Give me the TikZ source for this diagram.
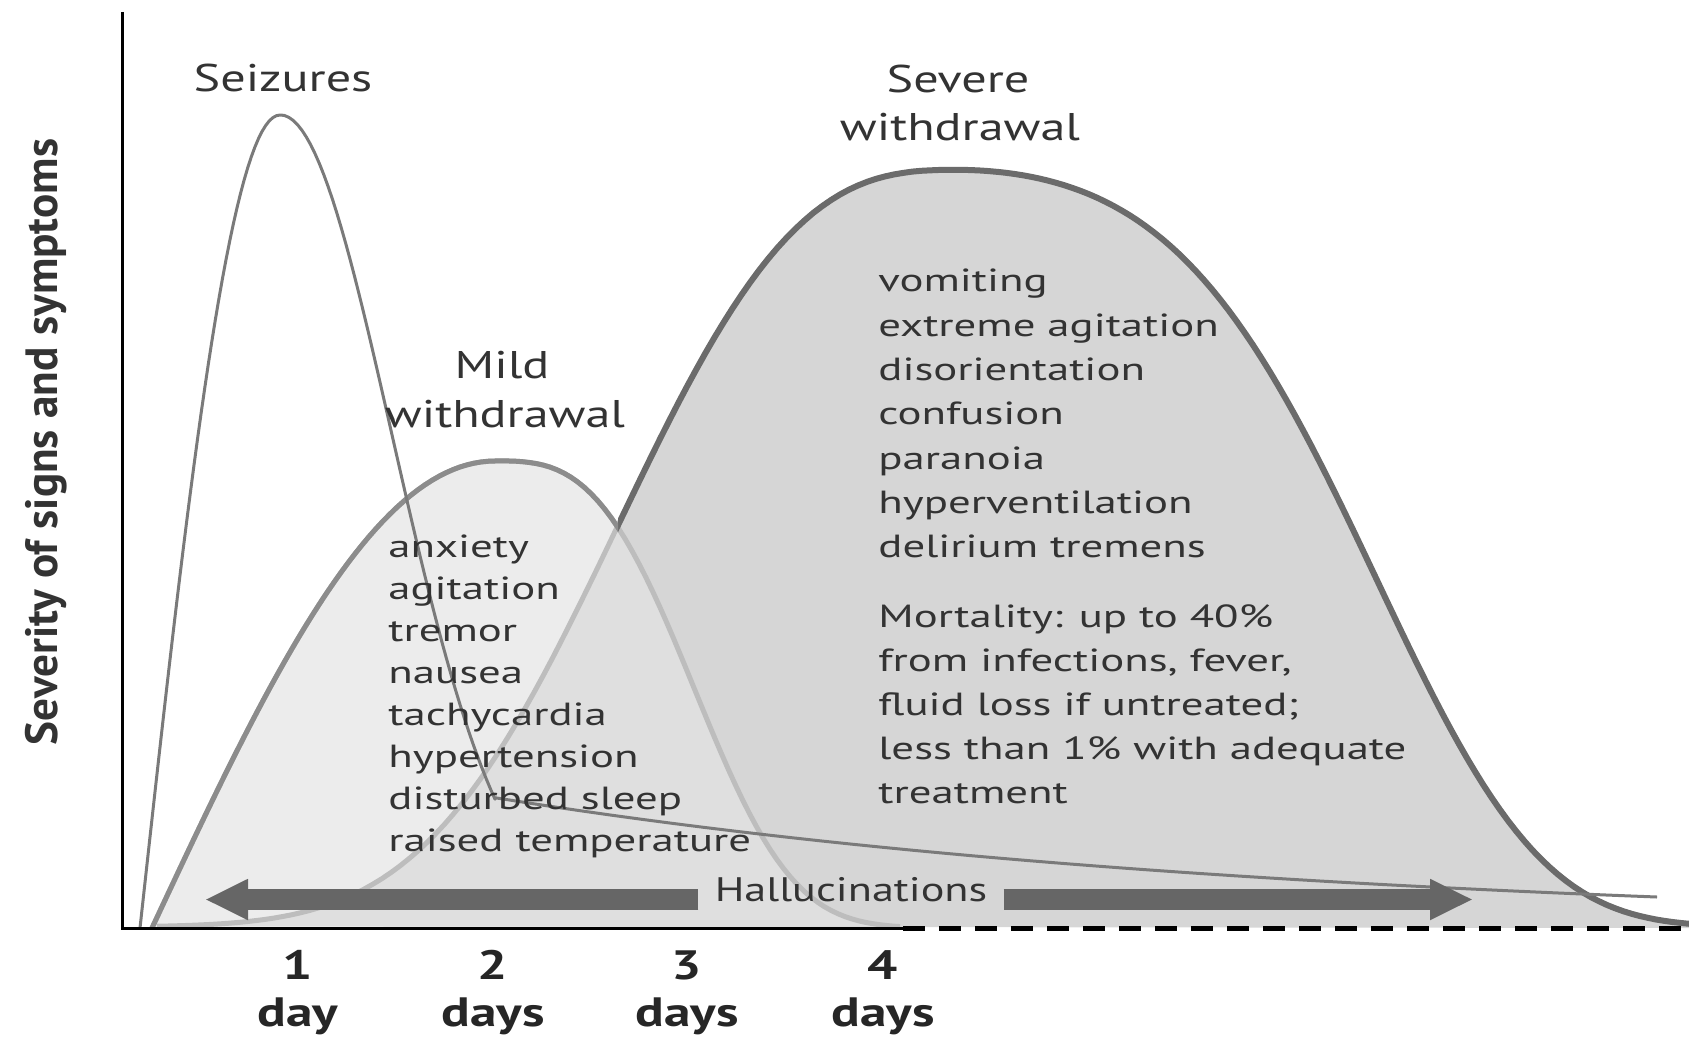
\documentclass[tikz,border=0pt]{standalone}
\usepackage{fontspec}
\setmainfont{PT Sans}[FakeStretch=1.3]
\newfontfamily\symptomfont{PT Sans}[FakeStretch=1.4]
\newfontfamily\ylabelfont{PT Sans}
\usetikzlibrary{arrows.meta}

\definecolor{severefill}{HTML}{D6D6D6}
\definecolor{mildfill}{HTML}{E4E4E4}
\definecolor{severeline}{HTML}{6B6B6B}
\definecolor{mildline}{HTML}{8C8C8C}
\definecolor{fadedline}{HTML}{BDBDBD}
\definecolor{seizureline}{HTML}{7A7A7A}
\definecolor{arrowgray}{HTML}{666666}
\definecolor{labelgray}{HTML}{333333}

% curves, in pixel units (y grows downwards)
\newcommand{\severecurve}{plot[domain=157:957, samples=90] (\x, {927-757*exp(-((957.5-\x)/400)^2.78)})
  -- plot[domain=957:1689, samples=90] (\x, {927-757*exp(-(0.016*((\x-957)/100)^2+0.0016*((\x-957)/100)^4))})}
\newcommand{\mildcurve}{plot[domain=152:495, samples=50] (\x, {928-467*sin((\x-152)*0.26239)})
  -- plot[domain=495:900, samples=60] (\x, {928-467*exp(-((\x-494.5)/228)^3.05)})}
\newcommand{\seizurecurve}{plot[domain=140:280, samples=40] (\x, {928-813*cos((280-\x)*0.642857)})
  -- plot[domain=280:495, samples=50] (\x, {928-813*exp(-0.5*((\x-280)/112)^2)})
  -- plot[domain=495:1657, samples=40] (\x, {928-129*exp(-0.00124*(\x-503))})}

\begin{document}
\begin{tikzpicture}[x=0.5pt, y=-0.5pt, line join=round,
  symptom/.style={font=\symptomfont\fontsize{16}{19}\selectfont, text=labelgray, inner sep=0pt, anchor=base west},
  heading/.style={font=\fontsize{19.3}{23}\selectfont, text=labelgray, inner sep=0pt, anchor=base},
  daytick/.style={font=\bfseries\fontsize{20.5}{24}\selectfont, text=black!85, inner sep=0pt, anchor=base},
  hallarrow/.style={arrowgray, line width=10.5pt, -{Triangle[length=21.5pt, width=19pt]}}]
  \useasboundingbox (0,0) rectangle (1689,1037);

  % Shading the regions
  \fill[severefill] \severecurve -- (1689,928) -- cycle;
  \fill[mildfill, fill opacity=0.7] \mildcurve -- cycle;

  % Curves
  \draw[fadedline, line width=2.5pt] \severecurve;
  \draw[fadedline, line width=2.5pt] \mildcurve;
  \begin{scope}
    \clip (618,0) rectangle (1689,1037);
    \draw[severeline, line width=3pt] \severecurve;
  \end{scope}
  \begin{scope}
    \clip (0,0) rectangle (618,1037);
    \draw[mildline, line width=2.5pt] \mildcurve;
  \end{scope}
  \draw[seizureline, line width=1.5pt] \seizurecurve;

  % Axes
  \draw[line width=1.5pt, line join=miter] (122,12) -- (122,928) -- (903,928);
  \draw[line width=2.5pt, dash pattern=on 11pt off 7pt] (903,928) -- (1689,928);
  \node[rotate=90, font=\ylabelfont\bfseries\fontsize{22.6}{27}\selectfont, text=labelgray] (ylab) at (46,442) {Severity of signs and symptoms};

  % Days
  \node[daytick] (d1) at (298,979) {1};
  \node[daytick] (d1txt) at (298,1026) {day};
  \node[daytick] (d2) at (493,979) {2};
  \node[daytick] (d2txt) at (493,1026) {days};
  \node[daytick] (d3) at (687,979) {3};
  \node[daytick] (d3txt) at (687,1026) {days};
  \node[daytick] (d4) at (883,979) {4};
  \node[daytick] (d4txt) at (883,1026) {days};

  % Headings
  \node[heading] (seiz) at (283,92) {Seizures};
  \node[heading] (mildA) at (502,378) {Mild};
  \node[heading] (mildB) at (505,427) {withdrawal};
  \node[heading] (sevA) at (958,93) {Severe};
  \node[heading] (sevB) at (960,141) {withdrawal};

  % Symptoms
  \foreach \txt [count=\i from 0] in {anxiety, agitation, tremor, nausea, tachycardia, hypertension, disturbed sleep, raised temperature}
    \node[symptom] (mild\i) at (388,{557+42*\i}) {\txt};
  \foreach \txt [count=\i from 0] in {vomiting, extreme agitation, disorientation, confusion, paranoia, hyperventilation, delirium tremens}
    \node[symptom] (severe\i) at (878,{292+44.3*\i}) {\txt};
  \foreach \txt [count=\i from 0] in {Mortality: up to 40\%, {from infections, fever,}, {fluid loss if untreated;}, less than 1\% with adequate, treatment}
    \node[symptom] (mort\i) at (878,{627+44*\i}) {\txt};

  % Hallucinations
  \coordinate (hallL) at (205,899.5);
  \coordinate (hallR) at (1473,899.5);
  \node[heading, font=\fontsize{17}{20}\selectfont, anchor=center, inner xsep=8pt, inner ysep=0pt] (halluc) at (851,890) {Hallucinations};
  \draw[hallarrow] (halluc.west |- hallL) -- (hallL);
  \draw[hallarrow] (halluc.east |- hallR) -- (hallR);
\end{tikzpicture}
\end{document}
